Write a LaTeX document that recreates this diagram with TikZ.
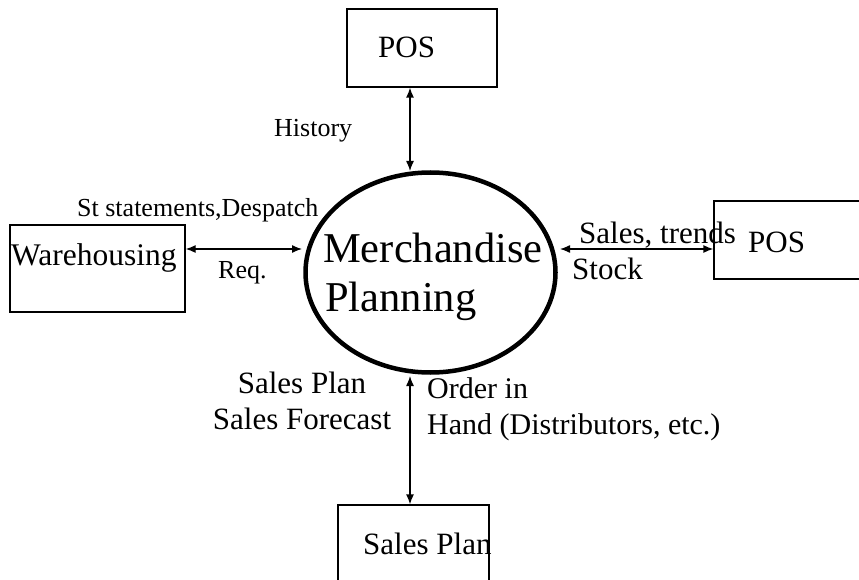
\documentclass[tikz,border=0pt]{standalone}
\usepackage{fontspec}
\setmainfont{Liberation Serif}
\usetikzlibrary{arrows.meta,shapes.geometric}
\begin{document}
\begin{tikzpicture}[x=1pt,y=-1pt,
  box/.style={draw,line width=1.3pt,inner sep=0pt,rectangle},
  flow/.style={line width=1.3pt,{Latex[length=10pt,width=8pt]}-{Latex[length=10pt,width=8pt]}},
  lbl/.style={anchor=base west,inner sep=0pt,font=\fontsize{26}{30}\selectfont},
  big/.style={anchor=base west,inner sep=0pt,font=\fontsize{31}{36}\selectfont},
  mid/.style={anchor=base west,inner sep=0pt,font=\fontsize{30}{36}\selectfont},
  midc/.style={anchor=base,inner sep=0pt,font=\fontsize{31}{36}\selectfont},
  huge/.style={anchor=base west,inner sep=0pt,font=\fontsize{42.5}{48}\selectfont}]
\useasboundingbox (0,0) rectangle (859,580);
% boxes
\node[box,minimum width=150pt,minimum height=78pt] (pos1) at (422,48) {};
\node[box,minimum width=175pt,minimum height=87pt] (wh) at (97.5,268.5) {};
\node[box,minimum width=170pt,minimum height=78pt] (pos2) at (799,240) {};
\node[box,minimum width=151pt,minimum height=100pt] (sp) at (413.5,555) {};
% ellipse
\node[ellipse,draw,line width=4.5pt,minimum width=250pt,minimum height=200pt] (mp) at (430.5,272.5) {};
\coordinate (mpN) at (410,171);
\coordinate (mpW) at (302,249);
\coordinate (mpE) at (560,249);
\coordinate (mpS) at (410,376);
% connectors
\draw[flow] (pos1.south -| mpN) -- (mpN);
\draw[flow] (wh.east |- mpW) -- (mpW);
\draw[flow] (mpE) -- (pos2.west |- mpE);
\draw[flow] (mpS) -- (sp.north -| mpS);
% texts
\node[big] (t1) at (378,58) {POS};
\node[lbl] (t2) at (274,137) {History};
\node[lbl] (t3) at (77,217) {St statements,Despatch};
\node[big,font=\fontsize{31.5}{36}\selectfont] (t4) at (11,265) {Warehousing};
\node[lbl] (t5) at (218,278) {Req.};
\node[huge] (t6) at (323,262) {Merchandise};
\node[huge] (t7) at (325,311) {Planning};
\node[big] (t8) at (579,243) {Sales, trends};
\node[big] (t9) at (572,279) {Stock};
\node[big] (t10) at (748,252) {POS};
\node[midc] (t11) at (302,393) {Sales Plan};
\node[midc] (t12) at (302,429) {Sales Forecast};
\node[mid] (t13) at (427,398) {Order in};
\node[mid] (t14) at (427,434) {Hand (Distributors, etc.)};
\node[big] (t15) at (363,554) {Sales Plan};
\end{tikzpicture}
\end{document}
